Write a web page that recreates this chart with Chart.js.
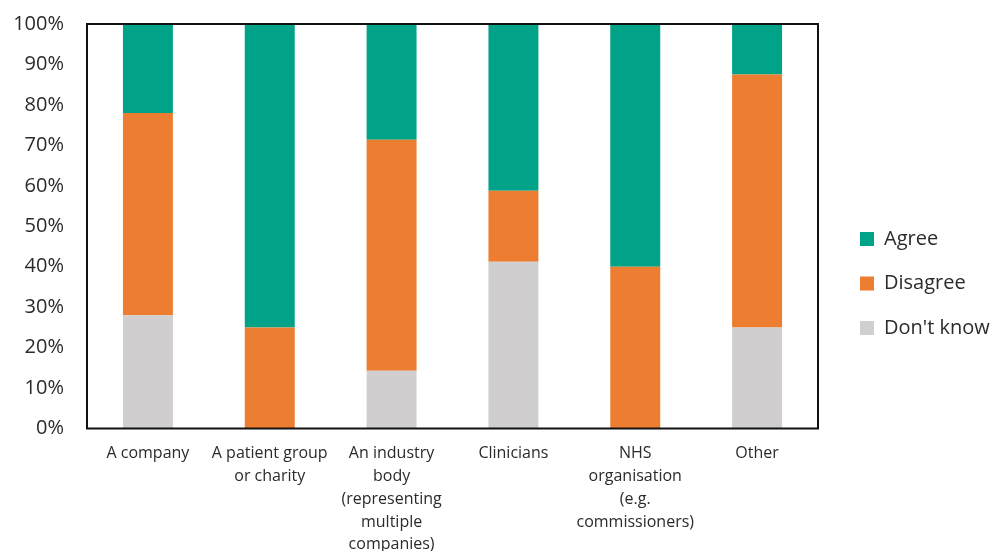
<!DOCTYPE html>
<html>
<head>
<meta charset="utf-8">
<title>Responses by respondent type</title>
<script src="https://cdn.jsdelivr.net/npm/chart.js@4.4.1/dist/chart.umd.min.js"></script>
<style>
  html, body { margin: 0; padding: 0; background: #ffffff; }
  #wrap { width: 992px; height: 551px; position: relative; }
</style>
</head>
<body>
<div id="wrap"><canvas id="chart"></canvas></div>
<script>
// Respondent groups (multi-line axis labels)
const categories = [
  ["A company"],
  ["A patient group", "or charity"],
  ["An industry", "body", "(representing", "multiple", "companies)"],
  ["Clinicians"],
  ["NHS", "organisation", "(e.g.", "commissioners)"],
  ["Other"]
];

// Share of responses per group, in percent
const dontKnow = [28, 0, 14.3, 41.2, 0, 25];
const disagree = [50, 25, 57.1, 17.6, 40, 62.5];
const agree    = [22, 75, 28.6, 41.2, 60, 12.5];

const seriesNames = ["Don't know", "Disagree", "Agree"];
const yTicks = [0, 10, 20, 30, 40, 50, 60, 70, 80, 90, 100];

const FONT = "'Open Sans', 'Noto Sans', sans-serif";
const TEXT = "#2b2b2b";

// Black frame round the plot area
const plotFrame = {
  id: 'plotFrame',
  afterDatasetsDraw(chart) {
    const { ctx, chartArea: a } = chart;
    ctx.save();
    ctx.strokeStyle = '#111111';
    ctx.lineWidth = 2;
    ctx.strokeRect(a.left, a.top, a.right - a.left, a.bottom - a.top);
    ctx.restore();
  }
};

new Chart(document.getElementById('chart'), {
  type: 'bar',
  data: {
    labels: categories,
    datasets: [
      { label: seriesNames[0], data: dontKnow, backgroundColor: '#D0CECE' },
      { label: seriesNames[1], data: disagree, backgroundColor: '#ED7D31' },
      { label: seriesNames[2], data: agree,    backgroundColor: '#00A388' }
    ]
  },
  options: {
    responsive: true,
    maintainAspectRatio: false,
    animation: false,
    layout: { padding: { top: 16, left: 0, right: 0, bottom: 0 } },
    datasets: { bar: { categoryPercentage: 1, barPercentage: 0.41, borderWidth: 0 } },
    scales: {
      x: {
        stacked: true,
        grid: { display: false, drawTicks: false },
        border: { display: false },
        ticks: {
          color: TEXT,
          padding: 14,
          maxRotation: 0,
          autoSkip: false,
          font: { family: FONT, size: 16, lineHeight: 1.42 }
        },
        afterFit(scale) { scale.height = 122.5; }
      },
      y: {
        stacked: true,
        min: 0,
        max: 100,
        afterBuildTicks(scale) { scale.ticks = yTicks.map(v => ({ value: v })); },
        grid: { display: false, drawTicks: false },
        border: { display: false },
        ticks: {
          color: TEXT,
          padding: 23,
          font: { family: FONT, size: 20, lineHeight: 0.1 },
          callback: v => v + '%'
        },
        afterFit(scale) { scale.width = 87; }
      },
      gap: {
        type: 'linear',
        position: 'right',
        display: true,
        grid: { display: false, drawTicks: false },
        border: { display: false },
        ticks: { display: false },
        afterFit(scale) { scale.width = 17.5; }
      }
    },
    plugins: {
      tooltip: { enabled: false },
      legend: {
        position: 'right',
        reverse: true,
        maxWidth: 156.5,
        labels: {
          color: TEXT,
          boxWidth: 14,
          boxHeight: 14,
          padding: 24.5,
          font: { family: FONT, size: 20 }
        }
      }
    }
  },
  plugins: [plotFrame]
});
</script>
</body>
</html>
